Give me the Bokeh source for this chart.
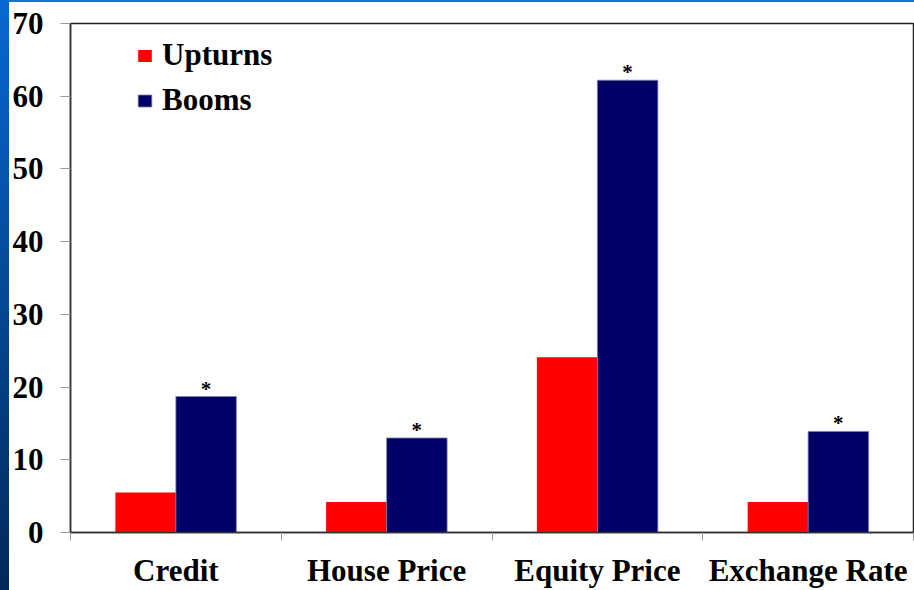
import numpy as np
from bokeh.plotting import figure
from bokeh.layouts import row, column
from bokeh.models import ColumnDataSource, Range1d, FixedTicker, Legend, LegendItem, Div
from bokeh.core.properties import value
from bokeh.embed import file_html
from bokeh.resources import INLINE

categories = ["Credit", "House Price", "Equity Price", "Exchange Rate"]
upturns = [5.5, 4.2, 24.1, 4.2]
booms = [18.7, 13.0, 62.2, 13.9]
marks = ["*", "*", "*", "*"]
y_ticks = [0, 10, 20, 30, 40, 50, 60, 70]

FONT = "Liberation Serif"
W, H = 914, 590
STRIP = 9
TOPLINE = 2
bar_w = 0.287
centers = np.arange(len(categories)) + 0.5

src = ColumnDataSource(dict(
    xu=centers - bar_w / 2, xb=centers + bar_w / 2,
    up=upturns, bo=booms, mk=marks,
))

p = figure(width=W - STRIP, height=H - TOPLINE, output_backend="svg", toolbar_location=None,
           x_range=Range1d(0, len(categories)), y_range=Range1d(0, 70),
           min_border_left=70 - STRIP, min_border_right=1,
           min_border_top=23 - TOPLINE, min_border_bottom=55)

p.xgrid.visible = False
p.ygrid.visible = False
p.outline_line_color = "#222222"
p.outline_line_width = 1.5
p.background_fill_color = "white"
p.border_fill_color = "white"

r_up = p.vbar(x="xu", top="up", width=bar_w, bottom=0, source=src,
              fill_color="#ff0000", line_color=None)
r_bo = p.vbar(x="xb", top="bo", width=bar_w, bottom=0, source=src,
              fill_color="#000066", line_color="#8080b0", line_width=0.8)

p.text(x="xb", y="bo", text="mk", source=src, text_align="center",
       text_baseline="bottom", y_offset=4,
       text_font=value(FONT), text_font_style="bold", text_font_size="21px",
       text_color="black")

# y axis
p.yaxis.ticker = FixedTicker(ticks=y_ticks)
p.yaxis.minor_tick_line_color = None
p.yaxis.major_tick_out = 10
p.yaxis.major_tick_in = 0
p.yaxis.major_tick_line_color = "#999999"
p.yaxis.axis_line_color = "#333333"
p.yaxis.axis_line_width = 1.5
p.yaxis.major_label_standoff = 17
p.yaxis.major_label_text_font = FONT
p.yaxis.major_label_text_font_style = "bold"
p.yaxis.major_label_text_font_size = "31px"
p.yaxis.major_label_text_color = "black"

# x axis: labels at centers, ticks at boundaries
p.xaxis.ticker = FixedTicker(ticks=list(centers), minor_ticks=list(range(len(categories) + 1)))
p.xaxis.major_label_overrides = {float(c): cat for c, cat in zip(centers, categories)}
p.xaxis.major_tick_line_color = None
p.xaxis.major_tick_out = 0
p.xaxis.major_tick_in = 0
p.xaxis.minor_tick_out = 8
p.xaxis.minor_tick_in = 0
p.xaxis.minor_tick_line_color = "#999999"
p.xaxis.axis_line_color = "#333333"
p.xaxis.axis_line_width = 1.5
p.xaxis.major_label_standoff = 12
p.xaxis.major_label_text_font = FONT
p.xaxis.major_label_text_font_style = "bold"
p.xaxis.major_label_text_font_size = "31px"
p.xaxis.major_label_text_color = "black"

legend = Legend(items=[LegendItem(label="Upturns", renderers=[r_up]),
                       LegendItem(label="Booms", renderers=[r_bo])],
                location=(66, 414), margin=0, padding=0, spacing=9,
                label_height=31, glyph_height=15, glyph_width=17, label_standoff=9,
                label_text_font=FONT, label_text_font_style="bold",
                label_text_font_size="31px", label_text_color="black",
                border_line_color=None, background_fill_alpha=0)
p.add_layout(legend)

# slide background: gradient strip on the left edge and thin line on top
strip = Div(text="", width=STRIP, height=H, margin=0,
            styles={"background": "linear-gradient(to bottom, #0868d2, #02285a)",
                    "width": f"{STRIP}px", "height": f"{H}px"})
topline = Div(text="", width=W - STRIP, height=TOPLINE, margin=0,
              styles={"background": "#1a6fd0",
                      "width": f"{W - STRIP}px", "height": f"{TOPLINE}px"})

layout = row(strip, column(topline, p, spacing=0), spacing=0)
open("out.html", "w").write(file_html(layout, INLINE))
